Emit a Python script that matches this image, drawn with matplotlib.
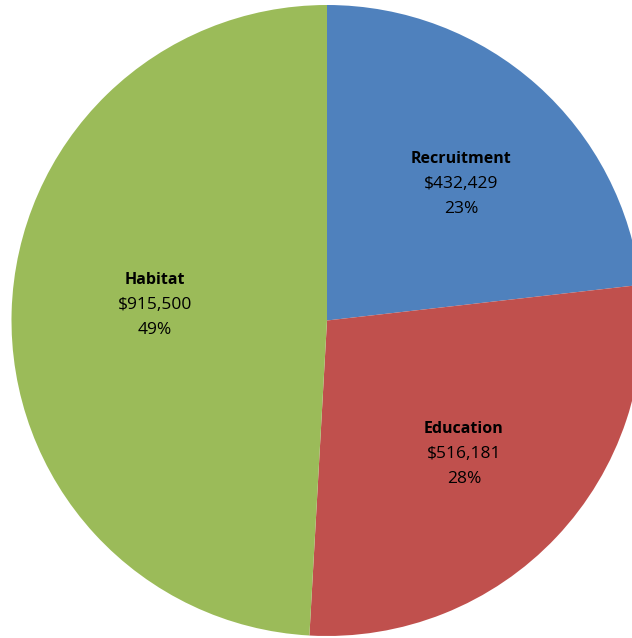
import numpy as np
import matplotlib
matplotlib.use("Agg")
import matplotlib.pyplot as plt

categories = ["Recruitment", "Education", "Habitat"]
values = [432429, 516181, 915500]
colors = ["#4F81BD", "#C0504D", "#9BBB59"]
# label anchor positions (fraction of radius), layout only
label_xy = [(0.425, 0.433), (0.434, -0.423), (-0.545, 0.05)]

W, H = 632, 638
fig = plt.figure(figsize=(W / 100, H / 100), dpi=100)
cx, cy, r = 327, 320.5, 315.5
ax = fig.add_axes([(cx - r) / W, (H - cy - r) / H, 2 * r / W, 2 * r / H])

wedges, _ = ax.pie(values, colors=colors, startangle=90, counterclock=False,
                   radius=1, center=(0, 0), frame=False,
                   wedgeprops=dict(linewidth=0))
ax.set_xlim(-1, 1)
ax.set_ylim(-1, 1)
ax.set_aspect("auto")
ax.axis("off")

total = sum(values)
font = "Open Sans"
for name, v, (x, y) in zip(categories, values, label_xy):
    lines = [(name, "bold", 11.5), (f"${v:,.0f}", "normal", 12.5),
             (f"{v / total * 100:.0f}%", "normal", 12.5)]
    for i, (t, wt, fs) in enumerate(lines):
        ax.annotate(t, (x, y), xytext=(0, (1 - i) * 18), textcoords="offset points",
                    ha="center", va="center", fontsize=fs, fontweight=wt,
                    family=font, color="black")

fig.savefig("out.png", dpi=100)
